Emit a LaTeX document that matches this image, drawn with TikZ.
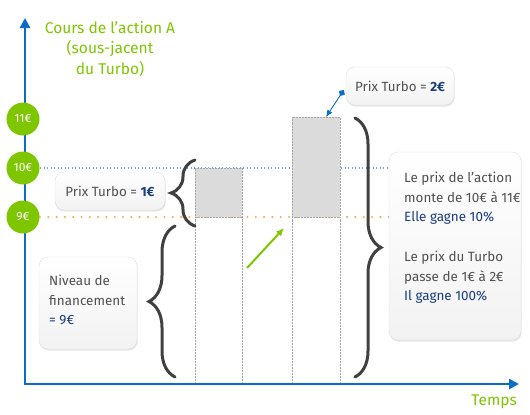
\documentclass[tikz,border=0pt]{standalone}
\usepackage{fontspec}
\setmainfont{Fira Sans}
\usetikzlibrary{arrows.meta,decorations.pathreplacing,shadows,calc}
\definecolor{axisblue}{RGB}{10,110,200}
\definecolor{lgreen}{RGB}{125,198,0}
\definecolor{dblue}{RGB}{25,60,125}
\definecolor{tgray}{RGB}{80,80,80}
\definecolor{dotblue}{RGB}{110,165,220}
\definecolor{dotorange}{RGB}{255,170,80}
\definecolor{bracegray}{RGB}{64,64,64}
\tikzset{
  axisline/.style={draw=axisblue,line width=2.6bp,-{Triangle[length=10bp,width=10bp]}},
  pricecircle/.style={circle,fill=lgreen,minimum size=33bp,inner sep=0pt,text=white,font=\fontsize{12}{13}\selectfont},
  infobox/.style={draw=gray!25,rounded corners=9bp,top color=white,bottom color=gray!10,
    drop shadow={opacity=0.2,shadow xshift=0.6bp,shadow yshift=-1.5bp},inner sep=0pt},
  bodytext/.style={text=tgray,font=\fontsize{13.5}{19.6}\selectfont,align=left,anchor=north west,inner sep=0pt},
  labeltext/.style={text=tgray,font=\fontsize{13.4}{15}\selectfont,inner sep=0pt},
  graybar/.style={fill=gray!28,draw=gray!70,densely dotted,line width=0.5bp},
  vguide/.style={draw=gray!70,densely dotted,line width=0.5bp},
  bigbrace/.style={decorate,draw=bracegray,line width=3bp,line cap=round},
  titletext/.style={text=lgreen,font=\fontsize{15.6}{21}\selectfont,align=center},
}
\begin{document}
\begin{tikzpicture}[x=1bp,y=-1bp]
\useasboundingbox (0,0) rectangle (530,414);
% guide lines
\coordinate (o) at (25,384);
\draw[dotblue,line width=1.2bp,dash pattern=on 1.2bp off 2.3bp] (40,168) -- (390,168);
\draw[dotorange,line width=2.4bp,dash pattern=on 0bp off 8.3bp,line cap=round] (40,217) -- (390,217);
% vertical guides
\draw[vguide] (195,217) -- (195,384);
\draw[vguide] (242,217) -- (242,384);
\draw[vguide] (292,217) -- (292,384);
\draw[vguide] (340,217) -- (340,384);
% bars
\node[graybar,minimum width=47bp,minimum height=49bp,inner sep=0pt] (bar1) at (218.5,192.5) {};
\node[graybar,minimum width=48bp,minimum height=100bp,inner sep=0pt] (bar2) at (316,167) {};
% axes
\coordinate (ytop) at (25,18);
\coordinate (xend) at (519,384);
\draw[axisline] (25,385.3) -- (ytop);
\draw[axisline] (23.7,384) -- (xend);
% price circles
\node[pricecircle] (c11) at (23,119) {11€};
\node[pricecircle] (c10) at (23,168) {10€};
\node[pricecircle] (c9) at (23,217) {9€};
% titles
\node[titletext] (ttl) at (110,49) {Cours de l’action A\\(sous-jacent\\du Turbo)};
\node[text=lgreen,font=\fontsize{15.6}{18}\selectfont,anchor=east,inner sep=0pt] (temps) at (517,402) {Temps};
% braces
\draw[bigbrace,decoration={brace,amplitude=24bp}] (195,226) -- (195,160);
\draw[bigbrace,decoration={brace,amplitude=26bp}] (175,377) -- (175,226);
\draw[bigbrace,decoration={brace,amplitude=26bp}] (355,118) -- (355,377);
% green arrow
\coordinate (ga1) at (247,268);
\coordinate (ga2) at (284,228);
\draw[lgreen,line width=2bp,-{Latex[length=8bp,width=7bp]}] (ga1) -- (ga2);
% info boxes
\node[infobox,minimum width=108bp,minimum height=38bp] (p2) at (400,86) {};
\node[labeltext] (p2t) at (p2.center) {Prix Turbo = \textcolor{dblue}{\bfseries 2€}};
\node[infobox,minimum width=110bp,minimum height=38bp] (p1) at (110,191) {};
\node[labeltext] (p1t) at (p1.center) {Prix Turbo = \textcolor{dblue}{\bfseries 1€}};
\node[infobox,minimum width=98bp,minimum height=92bp] (nf) at (88,303) {};
\node[bodytext] (nft) at (49,275) {Niveau de\\financement\\\textcolor{dblue}{= 9€}};
\node[infobox,minimum width=132bp,minimum height=188bp] (rb) at (455,246) {};
\node[bodytext] (rbt1) at (404,172) {Le prix de l’action\\monte de 10€ à 11€\\\textcolor{dblue}{Elle gagne 10\%}};
\node[bodytext] (rbt2) at (404,251) {Le prix du Turbo\\passe de 1€ à 2€\\\textcolor{dblue}{Il gagne 100\%}};
% connector
\coordinate (b2top) at (326,117);
\draw[axisblue,line width=0.9bp,{Diamond[length=7bp,width=7bp]}-{Latex[length=7bp,width=6bp]}] ($(p2.west)+(-2,4)$) -- (b2top);
\end{tikzpicture}
\end{document}
